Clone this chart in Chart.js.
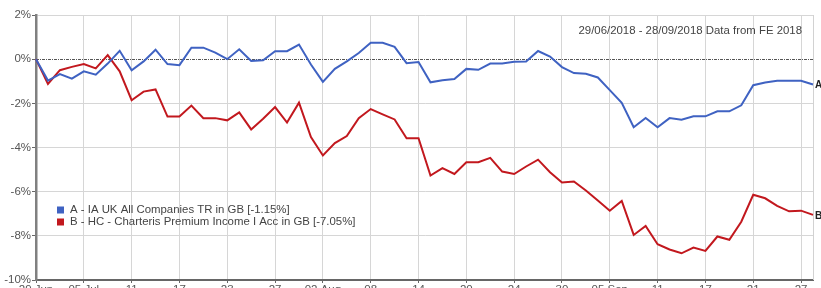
<!DOCTYPE html>
<html>
<head>
<meta charset="utf-8">
<script src="https://cdn.jsdelivr.net/npm/chart.js@4.4.1/dist/chart.umd.min.js"></script>
<style>
html, body { margin: 0; padding: 0; background: #fff; overflow: hidden; }
#wrap { position: absolute; left: 0; top: 0; width: 821px; height: 300px; }
</style>
</head>
<body>
<div id="wrap"><canvas id="chart"></canvas></div>
<script>
// ===== FE performance chart: IA UK All Companies vs Charteris Premium Income =====
const dates = [
  "29/06","02/07","03/07","04/07","05/07","06/07","09/07","10/07","11/07","12/07","13/07",
  "16/07","17/07","18/07","19/07","20/07","23/07","24/07","25/07","26/07","27/07","30/07","31/07",
  "01/08","02/08","03/08","06/08","07/08","08/08","09/08","10/08","13/08","14/08","15/08","16/08",
  "17/08","20/08","21/08","22/08","23/08","24/08","27/08","28/08","29/08","30/08","31/08",
  "03/09","04/09","05/09","06/09","07/09","10/09","11/09","12/09","13/09","14/09","17/09","18/09",
  "19/09","20/09","21/09","24/09","25/09","26/09","27/09","28/09"
];
const tickLabels = ["29 Jun","05 Jul","11","17","23","27","02 Aug","08","14","20","24","30","05 Sep","11","17","21","27"];

const seriesA = [
  0, -0.97, -0.68, -0.88, -0.55, -0.7, -0.2, 0.38, -0.5, -0.1, 0.43,
  -0.22, -0.27, 0.52, 0.52, 0.3, 0.0, 0.45, -0.08, -0.05, 0.36, 0.36,
  0.66, -0.24, -1.03, -0.44, -0.1, 0.28, 0.74, 0.74, 0.56, -0.18, -0.13,
  -1.05, -0.95, -0.9, -0.44, -0.48, -0.2, -0.2, -0.12, -0.11, 0.37, 0.12,
  -0.36, -0.63, -0.66, -0.83, -1.4, -1.98, -3.08, -2.66, -3.08, -2.67, -2.74,
  -2.59, -2.59, -2.36, -2.36, -2.09, -1.18, -1.06, -0.98, -0.98, -0.98, -1.15
];
const seriesB = [
  0, -1.12, -0.5, -0.35, -0.22, -0.42, 0.18, -0.55, -1.86, -1.47, -1.37,
  -2.6, -2.6, -2.1, -2.67, -2.67, -2.77, -2.41, -3.18, -2.7, -2.17, -2.87,
  -1.97, -3.53, -4.36, -3.8, -3.48, -2.67, -2.26, -2.5, -2.73, -3.58, -3.58,
  -5.27, -4.93, -5.2, -4.67, -4.67, -4.47, -5.09, -5.2, -4.86, -4.55, -5.12,
  -5.58, -5.54, -5.95, -6.4, -6.86, -6.42, -7.96, -7.55, -8.38, -8.62, -8.79,
  -8.53, -8.68, -8.03, -8.18, -7.36, -6.14, -6.3, -6.64, -6.89, -6.86, -7.05
];

const seriesNames = [
  "A - IA UK All Companies TR in GB [-1.15%]",
  "B - HC - Charteris Premium Income I Acc in GB [-7.05%]"
];
const endTags = ["A", "B"];
const colors = ["#3f62c2", "#c2181e"];
const FONT = "'Liberation Sans', Arial, sans-serif";

const decorations = {
  id: "decorations",
  beforeDatasetsDraw(chart) {
    const { ctx, chartArea: a, scales } = chart;
    ctx.save();
    // right border
    ctx.strokeStyle = "#d2d2d2"; ctx.lineWidth = 1;
    ctx.beginPath(); ctx.moveTo(a.right + 0.5, a.top); ctx.lineTo(a.right + 0.5, a.bottom); ctx.stroke();
    // dotted zero line
    const y0 = Math.round(scales.y.getPixelForValue(0)) + 0.5;
    ctx.strokeStyle = "#555"; ctx.setLineDash([3, 1, 1, 1]);
    ctx.beginPath(); ctx.moveTo(a.left, y0); ctx.lineTo(a.right, y0); ctx.stroke();
    ctx.restore();
  },
  afterDatasetsDraw(chart) {
    const { ctx, chartArea: a, scales } = chart;
    ctx.save();
    ctx.font = "11.4px " + FONT;
    ctx.fillStyle = "#444";
    ctx.textBaseline = "middle";
    ctx.textAlign = "right";
    ctx.fillText("29/06/2018 - 28/09/2018 Data from FE 2018", 802, 31);
    // legend
    ctx.textAlign = "left";
    seriesNames.forEach((name, i) => {
      const y = 210 + i * 12;
      ctx.fillStyle = colors[i];
      ctx.fillRect(57, y - 3.5, 7, 7);
      ctx.fillStyle = "#444";
      ctx.fillText(name, 70, y);
    });
    // end tags
    ctx.font = "bold 10px " + FONT;
    ctx.fillStyle = "#222";
    [seriesA, seriesB].forEach((s, i) => {
      ctx.fillText(endTags[i], a.right + 2, scales.y.getPixelForValue(s[s.length - 1]) + 1);
    });
    ctx.restore();
  }
};

new Chart(document.getElementById("chart"), {
  type: "line",
  data: {
    labels: dates,
    datasets: [
      { label: seriesNames[0], data: seriesA, borderColor: colors[0], borderWidth: 2, pointRadius: 0, tension: 0 },
      { label: seriesNames[1], data: seriesB, borderColor: colors[1], borderWidth: 2, pointRadius: 0, tension: 0 }
    ]
  },
  options: {
    responsive: true, maintainAspectRatio: false, animation: false,
    layout: { padding: { top: 15, right: 8, left: 0, bottom: 0 } },
    plugins: { legend: { display: false }, tooltip: { enabled: false } },
    scales: {
      x: {
        type: "category", offset: false,
        afterBuildTicks: s => { s.ticks = s.ticks.filter((t, i) => i % 4 === 0); },
        afterFit: s => { s.height = 20; },
        ticks: { autoSkip: false, maxRotation: 0, padding: 0, color: "#555", font: { family: FONT, size: 11.5 },
                 callback: (v, i) => tickLabels[i] },
        grid: { color: "#d6d6d6", tickLength: 3, tickColor: "#666" },
        border: { color: "#666", width: 2 }
      },
      y: {
        min: -10, max: 2,
        afterFit: s => { s.width = 36; },
        ticks: { stepSize: 2, padding: 1, color: "#555", font: { family: FONT, size: 11.5 }, callback: v => v + "%" },
        grid: { color: c => (c.tick && c.tick.value === 0 ? "rgba(0,0,0,0)" : "#d6d6d6"), tickLength: 4, tickColor: "#666" },
        border: { color: "#808080", width: 2.5 }
      }
    }
  },
  plugins: [decorations]
});
</script>
</body>
</html>
